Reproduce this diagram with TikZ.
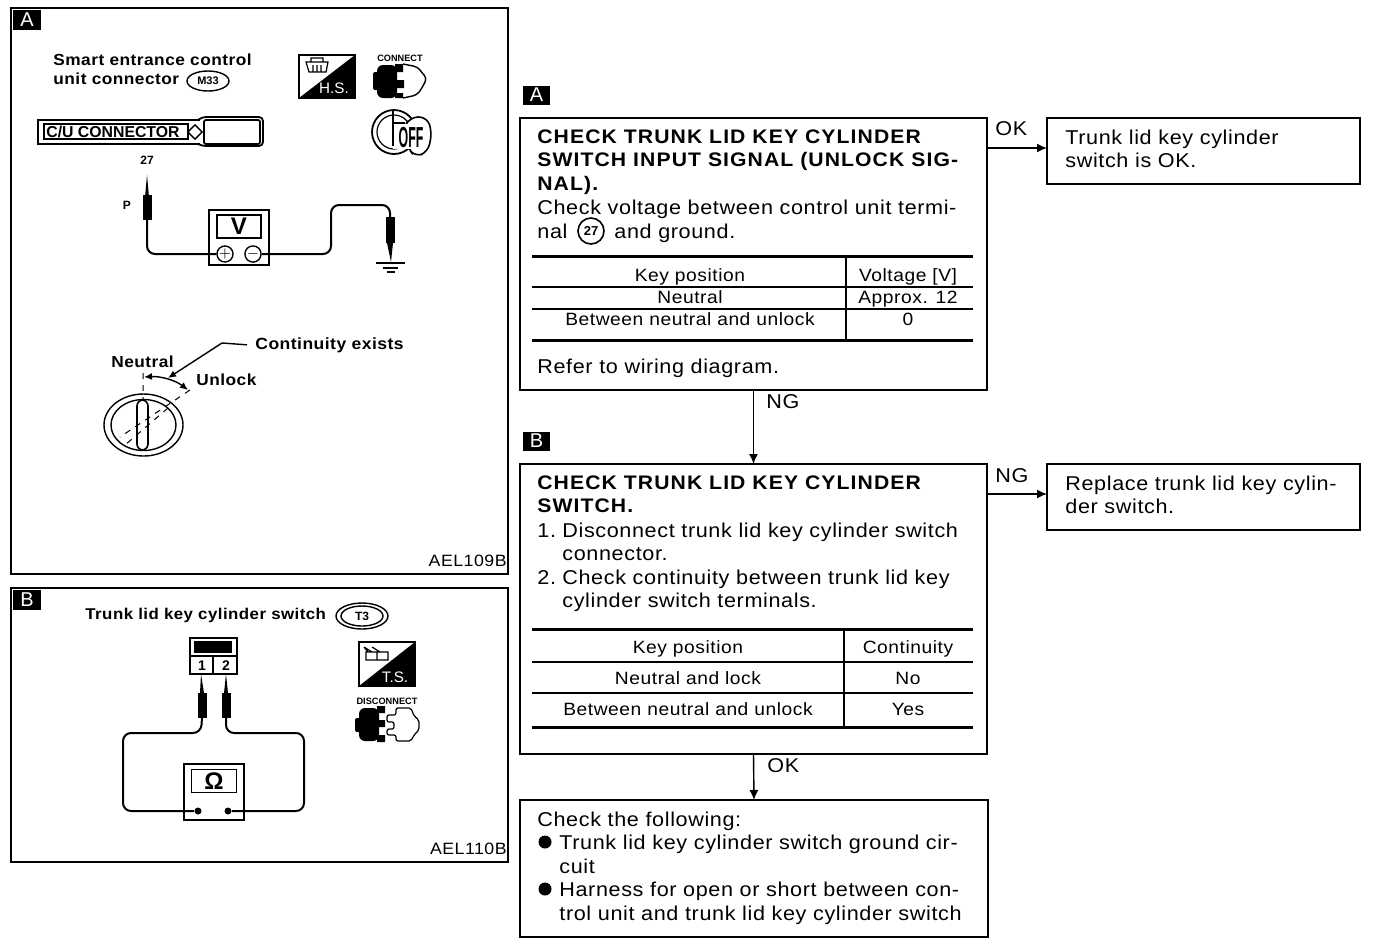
\documentclass[tikz,border=0pt]{standalone}
\usepackage{fontspec}
\setmainfont{Liberation Sans}
\newfontfamily\flowfont[FakeStretch=1.08,LetterSpace=3.1]{Liberation Sans}
\newfontfamily\flowbold[FakeStretch=1.08,LetterSpace=5.5]{Liberation Sans}
\newfontfamily\smallfont[FakeStretch=1.08,LetterSpace=3]{Liberation Sans}
\usetikzlibrary{arrows.meta,shapes.geometric}
\tikzset{
  x=0.5pt,y=-0.5pt,
  panel/.style={draw,line width=0.9pt,inner sep=0,outer sep=0},
  flowbox/.style={draw,line width=1pt,inner sep=0,outer sep=0},
  flow/.style={anchor=base west,inner sep=0,font=\flowfont\fontsize{10}{12}\selectfont},
  flowb/.style={anchor=base west,inner sep=0,font=\flowbold\bfseries\fontsize{9.8}{12}\selectfont},
  cell/.style={anchor=base,inner sep=0,font=\flowfont\fontsize{8.9}{11}\selectfont},
  small/.style={anchor=base west,inner sep=0,font=\smallfont\bfseries\fontsize{8}{10}\selectfont},
  code/.style={anchor=base east,inner sep=0,font=\flowfont\fontsize{8.2}{10}\selectfont},
  tag/.style={fill=black,text=white,inner sep=0,minimum width=13.5pt,minimum height=9.5pt,font=\fontsize{10}{10}\selectfont},
  arrow/.style={line width=0.7pt,-{Latex[length=5pt,width=4.5pt]}},
  thin rule/.style={line width=0.7pt},
  thick rule/.style={line width=1.5pt},
  wire/.style={line width=1pt,rounded corners=4pt},
  plug/.style={fill=black,draw=black,inner sep=0,minimum width=4pt,minimum height=12pt},
  term/.style={draw,circle,inner sep=0,line width=0.7pt},
  tinyb/.style={inner sep=0,font=\fontsize{4.6}{5}\selectfont\bfseries},
  icontext/.style={inner sep=0,text=white,font=\fontsize{7.6}{9}\selectfont},
}
\begin{document}
\begin{tikzpicture}
\useasboundingbox (0,0) rectangle (1376,944);
% --- left panels
\node[panel,minimum width=248.5pt,minimum height=283pt] (panelA) at (259.5,291) {};
\node[panel,minimum width=248.5pt,minimum height=137pt] (panelB) at (259.5,725) {};
\node[tag,minimum width=14pt,minimum height=10pt] (ltagA) at (27,20) {A};
\node[tag,minimum width=14pt,minimum height=10pt] (ltagB) at (27,600) {B};
\node[code] (codeA) at (507,566) {AEL109B};
\node[code] (codeB) at (507,854) {AEL110B};
% --- panel A top
\node[small] (sm1) at (53,65) {Smart entrance control};
\node[small] (sm2) at (53,84) {unit connector};
\node[draw,ellipse,line width=0.7pt,inner sep=0,minimum width=21pt,minimum height=10pt,font=\fontsize{5.5}{6}\selectfont\bfseries] (m33) at (208,81) {M33};
% H.S. icon
\node[draw,line width=0.7pt,inner sep=0,minimum width=28pt,minimum height=21.5pt] (hs) at (327,76.5) {};
\fill (355,55) -- (355,98) -- (299,98) -- cycle;
\draw[line width=0.6pt] (306,62) -- (328,62) -- (326,72) -- (309,72) -- cycle (311,62) -- (311,58) -- (323,58) -- (323,62)
  (313,65) -- (313,72) (317,65) -- (317,72) (321,65) -- (321,72);
\node[icontext] (hstext) at (334,88) {H.S.};
% connect icon
\node[tinyb] (connect) at (400,58) {CONNECT};
\fill[rounded corners=3pt] (377,65) rectangle (397,98);
\fill[rounded corners=1pt] (373,72) rectangle (380,90);
\fill (395,64) rectangle (403,72) (395,80) rectangle (404,88) (395,93) rectangle (403,98);
\draw[line width=0.7pt,rounded corners=2pt] (403,64) -- (418,67) -- (422,73) -- (427,78) -- (422,88) -- (417,95) -- (403,98);
% key OFF icon
\draw[line width=0.9pt] (394,132) circle (22);
\draw[line width=0.6pt] (394,132) circle (17);
\draw[fill=white,line width=0.8pt,rounded corners=4pt] (404,128) -- (410,117) -- (427,117) -- (432,132) -- (428,152) -- (415,157) -- (408,148) -- cycle;
\fill[white] (393,124) rectangle (424,149);
\draw[line width=0.9pt] (393,110) -- (393,146) (393,123) -- (405,123);
\node[inner sep=0,font=\fontsize{10}{10}\selectfont\bfseries] (off) at (411,137.5) {\scalebox{0.62}[1.45]{OFF}};
% C/U connector
\draw[line width=0.7pt] (200,120) -- (38,120) -- (38,144) -- (200,144);
\draw[line width=0.9pt,rounded corners=2pt] (198,120) -- (202,117) -- (263,117) -- (263,146) -- (202,146) -- (198,144);
\draw[line width=0.9pt,rounded corners=1pt] (204,120) rectangle (260,144);
\draw[line width=0.7pt] (44,124) rectangle (188,139);
\node[anchor=base west,inner sep=0,font=\fontsize{7.9}{9}\selectfont\bfseries] (cu) at (46,137) {C/U CONNECTOR};
\node[draw,diamond,inner sep=0,minimum size=7.5pt,line width=0.7pt] (dia) at (195,132) {};
\node[inner sep=0,font=\fontsize{6}{7}\selectfont\bfseries] (n27) at (147,160) {27};
\node[inner sep=0,font=\fontsize{6}{7}\selectfont\bfseries] (pP) at (127,205) {P};
% voltmeter
\node[draw,line width=0.8pt,inner sep=0,minimum width=30pt,minimum height=27.5pt] (vm) at (239,237.5) {};
\node[draw,line width=0.8pt,inner sep=0,minimum width=22pt,minimum height=11.5pt,font=\fontsize{12}{12}\selectfont\bfseries] (vdisp) at (239,226.5) {V};
\node[term,minimum size=7.5pt,font=\fontsize{7}{7}\selectfont] (plus) at (225,254) {$+$};
\node[term,minimum size=7pt,font=\fontsize{7}{7}\selectfont] (minus) at (253,254) {$-$};
% probes
\node[plug] (probeP) at (147,207) {};
\fill (145,197) -- (147,175) -- (149,197) -- cycle;
\draw[wire] (probeP.south) |- (plus.west);
\node[plug,minimum height=12.5pt] (probeG) at (390,230) {};
\fill (387,243) -- (391,262) -- (393,243) -- cycle;
\draw[wire] (minus.east) -- (331,254) -- (331,205) -- (390,205) -- (probeG.north);
% ground
\coordinate (gnd) at (391,263);
\draw[line width=0.8pt] (376,263) -- (405,263) (383,268) -- (398,268) (387,272) -- (395,272);
% key diagram
\node[small,font=\smallfont\bfseries\fontsize{8.1}{9}\selectfont] (cont) at (255,349) {Continuity exists};
\node[small] (neutral) at (111,367) {Neutral};
\node[small] (unlock) at (196,385) {Unlock};
\coordinate (arcmid) at (168,378);
\draw[line width=0.7pt,-{Latex[length=4pt,width=3.5pt]}] ([xshift=-4pt]cont.west) -- (222,343) -- (arcmid);
\draw[line width=0.7pt,{Latex[length=4pt,width=3.5pt]}-{Latex[length=4pt,width=3.5pt]}] (144,377) .. controls (160,376) and (175,380) .. (188,390);
\draw[line width=0.5pt,dashed] (143,373) -- (143,400) (190,390) -- (120,437) (168,408) -- (125,445);
\draw[line width=0.7pt] (143.5,425) ellipse (39.5 and 31);
\draw[line width=0.7pt] (143.5,425) ellipse (32.5 and 25.5);
\draw[line width=0.8pt,rounded corners=3pt] (137,400) rectangle (148,450);
% --- panel B
\node[small,font=\smallfont\bfseries\fontsize{7.8}{10}\selectfont] (trunk) at (85,619) {Trunk lid key cylinder switch};
\node[draw,ellipse,line width=0.7pt,inner sep=0,minimum width=26pt,minimum height=13pt] (t3o) at (362,616) {};
\node[draw,ellipse,line width=0.7pt,inner sep=0,minimum width=21pt,minimum height=10pt,font=\fontsize{6}{7}\selectfont\bfseries] (t3) at (362,616) {T3};
% connector block
\node[draw,line width=0.8pt,inner sep=0,minimum width=23.5pt,minimum height=18pt] (block) at (213.5,656) {};
\node[fill=black,inner sep=0,minimum width=19pt,minimum height=6pt] (blockbar) at (213,647) {};
\draw[line width=0.7pt] (190,656) -- (237,656) (213,656) -- (213,674);
\node[inner sep=0,font=\fontsize{7}{8}\selectfont\bfseries] (pin1) at (202,666) {1};
\node[inner sep=0,font=\fontsize{7}{8}\selectfont\bfseries] (pin2) at (226,666) {2};
% ohmmeter
\node[draw,line width=0.8pt,inner sep=0,minimum width=30pt,minimum height=28pt] (om) at (214,792) {};
\node[draw,line width=0.8pt,inner sep=0,minimum width=22.5pt,minimum height=11.5pt,font=\fontsize{12}{12}\selectfont\bfseries] (odisp) at (214,781) {Ω};
\node[circle,fill=black,inner sep=0,minimum size=3.5pt] (t1) at (198,811) {};
\node[circle,fill=black,inner sep=0,minimum size=3.5pt] (t2) at (228,811) {};
\node[plug] (pr1) at (202,705) {};
\node[plug] (pr2) at (226,705) {};
\fill (200,693) -- (201,674) -- (204,693) -- cycle;
\fill (224,693) -- (226,674) -- (228,693) -- cycle;
\draw[wire] (pr1.south) -- (201,733) -- (123,733) -- (123,811) -- (t1.west);
\draw[wire] (pr2.south) -- (226,733) -- (304,733) -- (304,811) -- (t2.east);
% T.S. icon
\node[draw,line width=0.7pt,inner sep=0,minimum width=28pt,minimum height=22pt] (ts) at (387,664) {};
\fill (415,642) -- (415,686) -- (359,686) -- cycle;
\draw[line width=0.6pt] (366,652) rectangle (388,660) (377,652) -- (377,660) (364,647) -- (372,652) (364,647) -- (368,652) (372,647) -- (380,652);
\node[icontext] (tstext) at (395,677) {T.S.};
% disconnect icon
\node[tinyb] (disc) at (387,701) {DISCONNECT};
\fill[rounded corners=3pt] (359,708) rectangle (379,741);
\fill[rounded corners=1pt] (355,718) rectangle (362,732);
\fill (377,706) rectangle (385,713) (377,720) rectangle (385,727) (377,735) rectangle (385,742);
\draw[line width=0.6pt,rounded corners=1pt] (387,715) -- (396,715) -- (396,708) -- (411,708) -- (414,716) -- (419,720) -- (419,730) -- (414,735) -- (411,741) -- (396,741) -- (396,735) -- (387,735) -- (387,729) -- (394,729) -- (394,722) -- (387,722) -- cycle;
% --- right side tags
\node[tag] (tagA) at (536.5,95) {A};
\node[tag] (tagB) at (536.5,441) {B};
% --- flow boxes
\node[flowbox,minimum width=233.5pt,minimum height=136pt] (boxA) at (753.5,254) {};
\node[flowbox,minimum width=156.5pt,minimum height=33pt] (okbox) at (1203.5,151) {};
\node[flowbox,minimum width=233.5pt,minimum height=145pt] (boxB) at (753.5,609) {};
\node[flowbox,minimum width=156.5pt,minimum height=33pt] (ngbox) at (1203.5,497) {};
\node[flowbox,minimum width=234pt,minimum height=68.5pt] (boxC) at (754,868.5) {};
% connectors
\coordinate (okin) at ([yshift=1.5pt]okbox.west);
\coordinate (ngin) at ([yshift=1.5pt]ngbox.west);
\draw[arrow] (boxA.east |- okin) -- (okin);
\draw[arrow] (boxA.south) -- (boxB.north);
\draw[arrow] (boxB.east |- ngin) -- (ngin);
\draw[arrow] (boxB.south) -- (boxC.north);
\node[flow] (lok1) at (995,135) {OK};
\node[flow] (lng1) at (766,408) {NG};
\node[flow] (lng2) at (995,482) {NG};
\node[flow] (lok2) at (767,772) {OK};
% box A text
\node[flowb] (a1) at (537,143) {CHECK TRUNK LID KEY CYLINDER};
\node[flowb] (a2) at (537,166) {SWITCH INPUT SIGNAL (UNLOCK SIG-};
\node[flowb] (a3) at (537,190) {NAL).};
\node[flow] (a4) at (537,214) {Check voltage between control unit termi-};
\node[flow] (a5) at (537,238) {nal};
\node[draw,circle,line width=0.8pt,inner sep=0,minimum size=13pt,font=\fontsize{6.5}{7}\selectfont\bfseries] (c27) at (591,231) {27};
\node[flow] (a6) at (614,238) {and ground.};
\node[flow] (a7) at (537,373) {Refer to wiring diagram.};
% table A
\coordinate (tal) at (532,256); \coordinate (tar) at (973,256);
\draw[thick rule] (tal) -- (tar) (532,340) -- (973,340);
\draw[thin rule] (532,287) -- (973,287) (532,309) -- (973,309) (846,256) -- (846,340);
\node[cell] (ta1) at (690,281) {Key position};
\node[cell] (ta2) at (908,281) {Voltage [V]};
\node[cell] (ta3) at (690,303) {Neutral};
\node[cell] (ta4) at (908,303) {Approx. 12};
\node[cell] (ta5) at (690,325) {Between neutral and unlock};
\node[cell] (ta6) at (908,325) {0};
% box B text
\node[flowb] (b1) at (537,489) {CHECK TRUNK LID KEY CYLINDER};
\node[flowb] (b2) at (537,512) {SWITCH.};
\node[flow] (b3) at (537,537) {1.};
\node[flow] (b3b) at (562,537) {Disconnect trunk lid key cylinder switch};
\node[flow] (b4) at (562,560) {connector.};
\node[flow] (b5) at (537,584) {2.};
\node[flow] (b5b) at (562,584) {Check continuity between trunk lid key};
\node[flow] (b6) at (562,607) {cylinder switch terminals.};
% table B
\draw[thick rule] (532,629) -- (973,629) (532,727) -- (973,727);
\draw[thin rule] (532,662) -- (973,662) (532,693) -- (973,693) (844,629) -- (844,727);
\node[cell] (tb1) at (688,653) {Key position};
\node[cell] (tb2) at (908,653) {Continuity};
\node[cell] (tb3) at (688,684) {Neutral and lock};
\node[cell] (tb4) at (908,684) {No};
\node[cell] (tb5) at (688,715) {Between neutral and unlock};
\node[cell] (tb6) at (908,715) {Yes};
% side boxes
\node[flow] (o1) at (1065,144) {Trunk lid key cylinder};
\node[flow] (o2) at (1065,167) {switch is OK.};
\node[flow] (n1) at (1065,490) {Replace trunk lid key cylin-};
\node[flow] (n2) at (1065,513) {der switch.};
% final box
\node[flow] (c1) at (537,826) {Check the following:};
\node[circle,fill=black,inner sep=0,minimum size=6.5pt] (bul1) at (545,842) {};
\node[flow] (c2) at (559,849) {Trunk lid key cylinder switch ground cir-};
\node[flow] (c3) at (559,873) {cuit};
\node[circle,fill=black,inner sep=0,minimum size=6.5pt] (bul2) at (545,889) {};
\node[flow] (c4) at (559,896) {Harness for open or short between con-};
\node[flow] (c5) at (559,920) {trol unit and trunk lid key cylinder switch};
\end{tikzpicture}
\end{document}
